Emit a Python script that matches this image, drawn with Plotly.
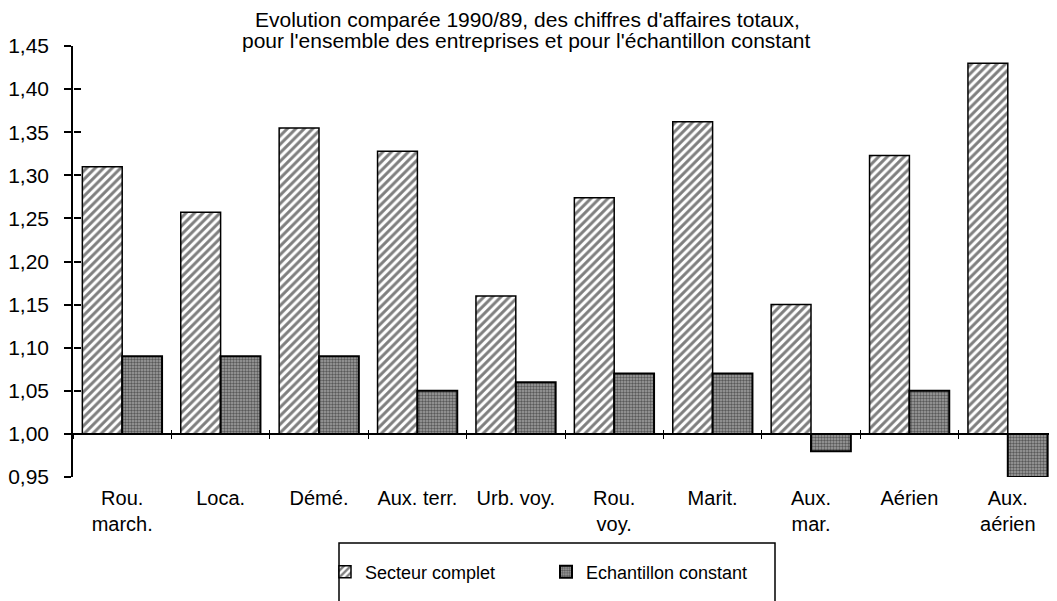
import plotly.graph_objects as go

categories = ["Rou.<br>march.", "Loca.", "Démé.", "Aux. terr.", "Urb. voy.",
              "Rou.<br>voy.", "Marit.", "Aux.<br>mar.", "Aérien", "Aux.<br>aérien"]
secteur_complet = [1.31, 1.257, 1.355, 1.328, 1.16, 1.274, 1.362, 1.15, 1.323, 1.43]
echantillon_constant = [1.09, 1.09, 1.09, 1.05, 1.06, 1.07, 1.07, 0.98, 1.05, 0.95]
y_ticks = [0.95, 1.00, 1.05, 1.10, 1.15, 1.20, 1.25, 1.30, 1.35, 1.40, 1.45]
y_tick_text = ["0,95", "1,00", "1,05", "1,10", "1,15", "1,20", "1,25", "1,30", "1,35", "1,40", "1,45"]
title_lines = ["Evolution comparée 1990/89, des chiffres d'affaires totaux,",
               "pour l'ensemble des entreprises et pour l'échantillon constant"]
base_value = 1.0
y_range = [0.95, 1.45]

FONT = "Liberation Sans, Arial, Helvetica, sans-serif"

# the page body adds an 8px offset; figure is sized so the plot lands where the reference has it
OFF = 8
W, H = 1049, 593
ML, MR, MT, MB = 65, 0, 38, 124
PW, PH = W - ML - MR, H - MT - MB


def px_x(px):
    return (px - OFF - ML) / PW


def px_y(py):
    return (H - MB - (py - OFF)) / PH


fig = go.Figure()
fig.add_trace(go.Bar(
    name="Secteur complet", x=categories,
    y=[v - base_value for v in secteur_complet], base=base_value,
    marker=dict(color="white", line=dict(color="black", width=1.5),
                pattern=dict(shape="/", fgcolor="black", bgcolor="white", size=6, solidity=0.5)),
))
fig.add_trace(go.Bar(
    name="Echantillon constant", x=categories,
    y=[v - base_value for v in echantillon_constant], base=base_value,
    marker=dict(color="#a0a0a0", line=dict(color="black", width=2),
                pattern=dict(shape=".", fgcolor="#111111", bgcolor="#a0a0a0", size=3, solidity=0.5)),
))
# helper invisible trace to carry the overlay axes (inside tick marks)
fig.add_trace(go.Scatter(x=categories, y=secteur_complet, xaxis="x2", yaxis="y2",
                         mode="markers", marker=dict(opacity=0), showlegend=False,
                         hoverinfo="skip"))

pos_base = (base_value - y_range[0]) / (y_range[1] - y_range[0])

title_annots = [
    dict(text=title_lines[0], xref="paper", yref="paper", x=px_x(527), y=px_y(19),
         xanchor="center", yanchor="middle", showarrow=False,
         font=dict(family=FONT, size=21, color="black")),
    dict(text=title_lines[1], xref="paper", yref="paper", x=px_x(526), y=px_y(40),
         xanchor="center", yanchor="middle", showarrow=False,
         font=dict(family=FONT, size=21, color="black")),
]

fig.update_layout(
    width=W, height=H,
    margin=dict(l=ML, r=MR, t=MT, b=MB, autoexpand=False),
    paper_bgcolor="white", plot_bgcolor="white",
    font=dict(family=FONT, color="black"),
    barmode="group", bargap=0.19, bargroupgap=0,
    annotations=title_annots,
    xaxis=dict(anchor="free", position=pos_base, showline=True, linecolor="black", linewidth=1.5,
               ticks="outside", tickson="boundaries", ticklen=4, tickwidth=1, tickcolor="black",
               ticklabelstandoff=46, tickfont=dict(size=20), showgrid=False, zeroline=False,
               range=[-0.5, 9.5], fixedrange=True, automargin=False),
    xaxis2=dict(overlaying="x", anchor="free", position=pos_base, showline=False,
                ticks="inside", tickson="boundaries", ticklen=4, tickwidth=1, tickcolor="black",
                showticklabels=False, showgrid=False, zeroline=False, range=[-0.5, 9.5],
                automargin=False),
    yaxis=dict(range=y_range, tickvals=y_ticks, ticktext=y_tick_text, showline=True,
               linecolor="black", linewidth=1.5, ticks="outside", ticklen=7, tickwidth=1.5,
               tickcolor="black", ticklabelstandoff=11, tickfont=dict(size=21),
               showgrid=False, zeroline=False, automargin=False),
    yaxis2=dict(overlaying="y", anchor="free", position=0, range=y_range, tickvals=y_ticks,
                showline=False, ticks="inside", ticklen=7, tickwidth=1.5, tickcolor="black",
                showticklabels=False, showgrid=False, zeroline=False, automargin=False),
    showlegend=True,
    legend=dict(orientation="h", x=px_x(325), xanchor="left",
                y=px_y(572), yanchor="middle",
                font=dict(size=18), bgcolor="rgba(0,0,0,0)", borderwidth=0,
                entrywidth=176, entrywidthmode="pixels"),
    shapes=[dict(type="rect", xref="paper", yref="paper",
                 x0=px_x(339), x1=px_x(775),
                 y0=px_y(543), y1=px_y(640),
                 line=dict(color="black", width=1.5), fillcolor="rgba(0,0,0,0)")],
)

fig.write_html("out.html")
